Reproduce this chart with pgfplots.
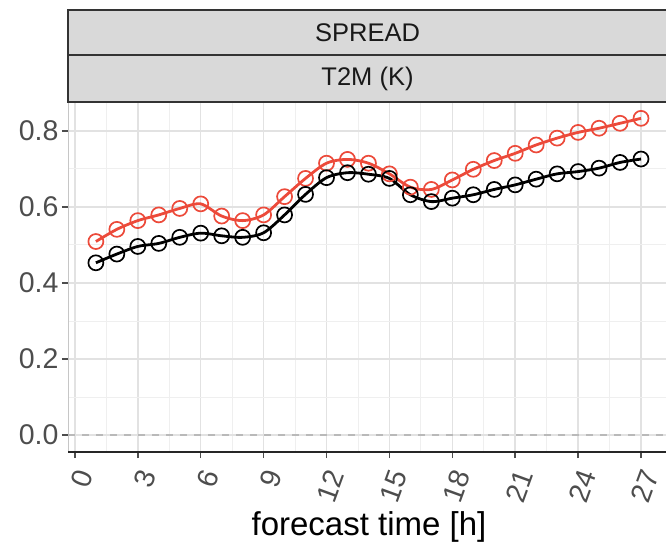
\documentclass[border=0pt]{standalone}
\usepackage{fontspec}
\setmainfont{Liberation Sans}
\usepackage{pgfplots}
\pgfplotsset{compat=1.18}

\definecolor{spreadred}{RGB}{236,74,58}
\definecolor{tickgray}{RGB}{77,77,77}
\definecolor{stripfill}{RGB}{217,217,217}
\definecolor{stripline}{RGB}{51,51,51}
\definecolor{majgrid}{RGB}{226,226,226}
\definecolor{mingrid}{RGB}{239,239,239}

% spread of 2 m temperature, by forecast hour
\pgfplotstableread{
h  s
1  0.509
2  0.541
3  0.564
4  0.579
5  0.596
6  0.608
7  0.576
8  0.564
9  0.579
10 0.627
11 0.675
12 0.715
13 0.725
14 0.715
15 0.687
16 0.652
17 0.646
18 0.671
19 0.699
20 0.722
21 0.741
22 0.763
23 0.781
24 0.796
25 0.807
26 0.820
27 0.833
}\redspread

\pgfplotstableread{
h  s
1  0.453
2  0.476
3  0.496
4  0.504
5  0.520
6  0.531
7  0.524
8  0.520
9  0.532
10 0.579
11 0.633
12 0.677
13 0.690
14 0.686
15 0.675
16 0.632
17 0.614
18 0.623
19 0.632
20 0.646
21 0.658
22 0.673
23 0.687
24 0.693
25 0.702
26 0.717
27 0.726
}\blackspread

\begin{document}
\begin{tikzpicture}[x=1pt,y=1pt]
\useasboundingbox (0,0) rectangle (666,549);
\begin{axis}[
  at={(68pt,97pt)}, anchor=south west,
  scale only axis, width=599pt, height=350pt,
  xmin=-0.33, xmax=28.24, ymin=-0.0447, ymax=0.876,
  xtick={0,3,...,27}, ytick={0,0.2,...,0.8},
  minor xtick={1.5,4.5,...,28.5}, minor ytick={0.1,0.3,0.5,0.7},
  grid=both,
  major grid style={majgrid, line width=1.5pt},
  minor grid style={mingrid, line width=0.9pt},
  minor tick length=0pt,
  major tick length=6pt,
  tick align=outside,
  xtick pos=bottom, ytick pos=left,
  tick style={tickgray, line width=1.5pt},
  axis line style={gray!45, line width=0.8pt},
  /pgf/number format/assume math mode=true,
  y tick label style={/pgf/number format/fixed, /pgf/number format/fixed zerofill, /pgf/number format/precision=1},
  ticklabel style={font=\fontsize{28.5}{30}\selectfont, text=tickgray},
  xticklabel style={yshift=-10pt, rotate=70, anchor=north east, inner sep=0pt},
  clip=false,
]
\addplot[gray!55, line width=1.3pt, dash pattern=on 7pt off 7pt] coordinates {(-0.33,0) (28.24,0)};
\addplot[spreadred, line width=2.8pt, smooth, mark=o, mark size=7.5pt,
  mark options={line width=1.7pt, solid}] table[x=h,y=s] {\redspread};
\addplot[black, line width=2.8pt, smooth, mark=o, mark size=7.5pt,
  mark options={line width=1.7pt, solid}] table[x=h,y=s] {\blackspread};
\draw[black!85, line width=2pt] (rel axis cs:0,0) -- (rel axis cs:1,0);
\end{axis}
% facet strips
\draw[stripline, line width=1.5pt, fill=stripfill] (68,447) rectangle (680,494);
\draw[stripline, line width=1.5pt, fill=stripfill] (68,494) rectangle (680,539);
\node[text=black!90, font=\fontsize{25.5}{28}\selectfont] at (367.5,516.5) {SPREAD};
\node[text=black!90, font=\fontsize{25.5}{28}\selectfont] at (367.5,470.5) {T2M (K)};
\node[text=black, font=\fontsize{33}{36}\selectfont] at (369,22) {forecast time [h]};
\end{tikzpicture}
\end{document}
